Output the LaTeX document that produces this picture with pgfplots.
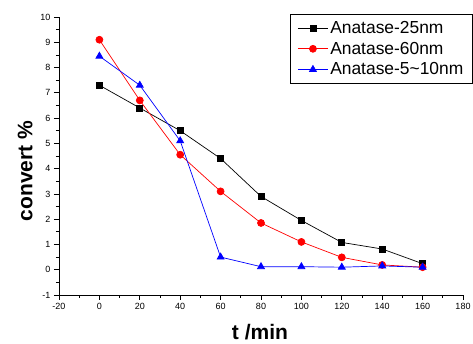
\documentclass[border=0pt]{standalone}
\usepackage{pgfplots}
\pgfplotsset{compat=1.18}
\usepackage{fontspec}
\setmainfont{Liberation Sans}
\begin{document}
\begin{tikzpicture}
\begin{axis}[
  name=ax,
  scale only axis,
  width=404pt, height=278pt,
  xmin=-20, xmax=180, ymin=-1, ymax=10,
  xtick={-20,0,...,180}, ytick={-1,0,...,10},
  minor x tick num=1, minor y tick num=1,
  axis x line*=bottom, axis y line*=left,
  axis line style={line width=0.9pt, -},
  tick align=outside,
  major tick length=5pt, minor tick length=3pt,
  every tick/.style={black, line width=0.8pt},
  tick label style={font=\fontsize{9}{10}\selectfont},
  /pgf/number format/assume math mode=true,
  xlabel={t /min}, ylabel={convert \%},
  xlabel style={font=\fontsize{21}{24}\selectfont\bfseries, at={(axis description cs:0.4975,-0.16)}, anchor=base},
  ylabel style={font=\fontsize{21}{24}\selectfont\bfseries, at={(axis description cs:-0.084,0.446)}, anchor=center, rotate=0},
  legend style={at={(axis description cs:1.024,1.011)}, anchor=north east,
    font=\fontsize{17.4}{20}\selectfont, draw=black, line width=0.8pt,
    inner xsep=7pt, inner ysep=5pt, row sep=3pt, cells={anchor=west}},
  legend image code/.code={\draw[mark repeat=2,mark phase=2,#1] plot coordinates {(0pt,0pt) (15pt,0pt) (30pt,0pt)};},
  clip=false,
]
\addplot[black, line width=0.7pt, mark=square*, mark size=3pt, mark options={solid}] coordinates {
(0,7.3) (20,6.4) (40,5.5) (60,4.4) (80,2.9) (100,1.95) (120,1.08) (140,0.82) (160,0.24)};
\addlegendentry{Anatase-25nm}
\addplot[red, line width=0.7pt, mark=*, mark size=3.5pt] coordinates {
(0,9.1) (20,6.7) (40,4.55) (60,3.1) (80,1.85) (100,1.1) (120,0.49) (140,0.19) (160,0.1)};
\addlegendentry{Anatase-60nm}
\addplot[blue, line width=0.7pt, mark=triangle*, mark size=4pt] coordinates {
(0,8.45) (20,7.3) (40,5.1) (60,0.5) (80,0.12) (100,0.12) (120,0.1) (140,0.15) (160,0.1)};
\addlegendentry{Anatase-5\textasciitilde10nm}
\end{axis}
\pgfresetboundingbox
\path[use as bounding box] ([xshift=-59pt,yshift=-49pt]ax.south west) rectangle ([xshift=10pt,yshift=17pt]ax.north east);
\end{tikzpicture}
\end{document}
